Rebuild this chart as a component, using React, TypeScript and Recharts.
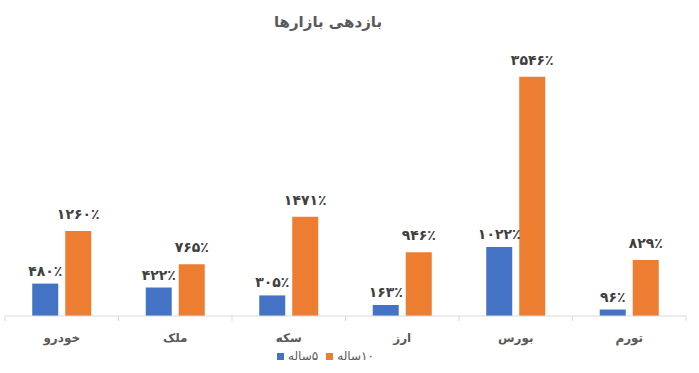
import React from "react";
import { BarChart, Bar, XAxis, YAxis, Legend, LabelList } from "recharts";

const categories = ["خودرو", "ملک", "سکه", "ارز", "بورس", "تورم"];
const fiveYear = [480, 422, 305, 163, 1022, 96];
const tenYear = [1260, 765, 1471, 946, 3546, 829];
const seriesNames = ["۵ساله", "۱۰ساله"];
const title = "بازدهی بازارها";

const data = categories.map((c, i) => ({ name: c, a: fiveYear[i], b: tenYear[i] }));

const W = 699;
const H = 373;
const M = { top: 46, right: 13, left: 5, bottom: 0 };
const step = (W - M.left - M.right) / categories.length;

const fa = (n: number) =>
  String(n).replace(/[0-9]/g, (d) => "۰۱۲۳۴۵۶۷۸۹"[Number(d)]) + "٪";

const font = "'DejaVu Sans', sans-serif";

const Tick = (props: any) => {
  const { x, y, payload, index } = props;
  const axisY = y - 8;
  return (
    <g>
      <line x1={x - step / 2} x2={x - step / 2} y1={axisY} y2={axisY + 5} stroke="#D9D9D9" />
      {index === categories.length - 1 && (
        <line x1={x + step / 2} x2={x + step / 2} y1={axisY} y2={axisY + 5} stroke="#D9D9D9" />
      )}
      <text
        x={x}
        y={axisY + 22}
        textAnchor="middle"
        dominantBaseline="central"
        fill="#595959"
        fontSize={12}
        fontWeight="bold"
        fontFamily={font}
      >
        {payload.value}
      </text>
    </g>
  );
};

const SeriesName = ({ name }: { name: string }) => (
  <span style={{ direction: "rtl", unicodeBidi: "isolate", display: "inline-block" }}>{name}</span>
);

const LegendContent = () => (
  <div
    style={{
      display: "flex",
      justifyContent: "center",
      alignItems: "center",
      fontFamily: font,
      fontSize: 12,
      color: "#595959",
      height: 22,
      direction: "ltr",
      paddingRight: 40,
    }}
  >
    <span style={{ width: 7, height: 7, background: "#4472C4", display: "inline-block", marginRight: 4 }} />
    <span style={{ marginRight: 8 }}>
      <SeriesName name={seriesNames[0]} />
    </span>
    <span style={{ width: 7, height: 7, background: "#ED7D31", display: "inline-block", marginRight: 4 }} />
    <SeriesName name={seriesNames[1]} />
  </div>
);

export default function App() {
  return (
    <div style={{ position: "absolute", left: 0, top: 0, width: W, height: H, background: "#fff" }}>
      <div
        style={{
          position: "absolute",
          top: 13,
          left: 0,
          width: 656,
          textAlign: "center",
          fontFamily: font,
          fontWeight: "bold",
          fontSize: 15,
          color: "#595959",
          direction: "rtl",
        }}
      >
        {title}
      </div>
      <BarChart
        width={W}
        height={H}
        data={data}
        margin={M}
        barGap={7}
        barCategoryGap="24%"
      >
        <YAxis hide domain={[0, 4000]} />
        <XAxis
          dataKey="name"
          axisLine={{ stroke: "#D9D9D9" }}
          tickLine={false}
          tick={<Tick />}
          height={35}
          interval={0}
        />
        <Legend
          verticalAlign="bottom"
          height={22}
          wrapperStyle={{ bottom: 6 }}
          content={<LegendContent />}
        />
        <Bar dataKey="a" fill="#4472C4" isAnimationActive={false}>
          <LabelList
            dataKey="a"
            position="top"
            offset={8}
            formatter={(v: any) => fa(v)}
            style={{ fill: "#404040", fontSize: 14, fontWeight: "bold", fontFamily: font }}
          />
        </Bar>
        <Bar dataKey="b" fill="#ED7D31" isAnimationActive={false}>
          <LabelList
            dataKey="b"
            position="top"
            offset={12}
            formatter={(v: any) => fa(v)}
            style={{ fill: "#404040", fontSize: 14, fontWeight: "bold", fontFamily: font }}
          />
        </Bar>
      </BarChart>
    </div>
  );
}
